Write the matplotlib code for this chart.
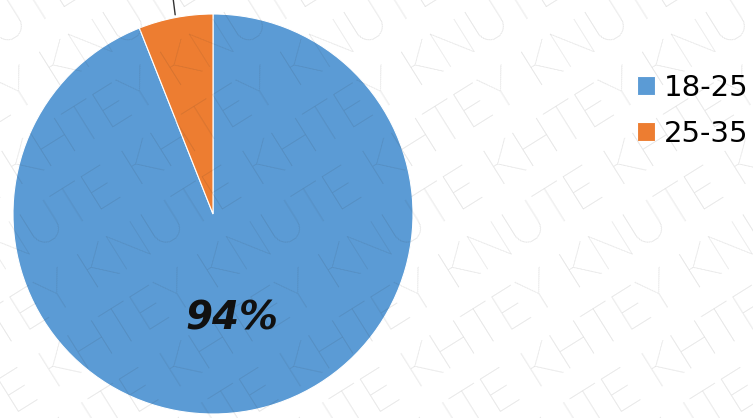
import numpy as np
import matplotlib.pyplot as plt

# Вікові групи та частки
groups = ["18-25", "25-35"]
shares = [94, 6]
colors = ["#5B9BD5", "#ED7D31"]

fig = plt.figure(figsize=(7.53, 4.18), dpi=100)
fig.patch.set_facecolor("white")

# Кругова діаграма
ax = fig.add_axes([13 / 753, 4 / 418, 400 / 753, 400 / 418])
wedges, _ = ax.pie(shares, colors=colors, startangle=90, counterclock=False,
                   radius=1, wedgeprops=dict(edgecolor="white", linewidth=0.8))
ax.set_xlim(-1, 1)
ax.set_ylim(-1, 1)
ax.set_aspect("equal")
ax.axis("off")

# Підписи часток
ax.text(0.095, -0.52, f"{shares[0]}%", ha="center", va="center",
        fontsize=28, fontweight="bold", fontstyle="italic", color="#111111")

th = np.deg2rad(90 + shares[1] / 100 * 360 / 2)
ax.annotate(f"{shares[1]}%", xy=(np.cos(th), np.sin(th)), xytext=(-0.23, 1.25),
            ha="center", va="bottom", fontsize=20, fontweight="bold",
            fontstyle="italic", annotation_clip=False,
            arrowprops=dict(arrowstyle="-", color="#333333", lw=1))

# Легенда
fig.legend(wedges, groups, loc="upper left", bbox_to_anchor=(637 / 753, 1 - 74 / 418),
           frameon=False, handlelength=0.62, handleheight=0.62,
           handletextpad=0.3, labelspacing=0.6, borderpad=0, borderaxespad=0,
           prop={"family": "DejaVu Sans", "size": 21})

# Водяний знак
mark = "KNUTE KHTEY " * 6
for k in range(-6, 8):
    x0 = -0.3 + k * 0.16
    fig.text(x0, -0.2, mark, rotation=32, rotation_mode="anchor",
             fontsize=40, color="#303030", alpha=0.16, family="Lato",
             fontweight="light", ha="left", va="bottom", zorder=10)

fig.savefig("out.png", dpi=100)
